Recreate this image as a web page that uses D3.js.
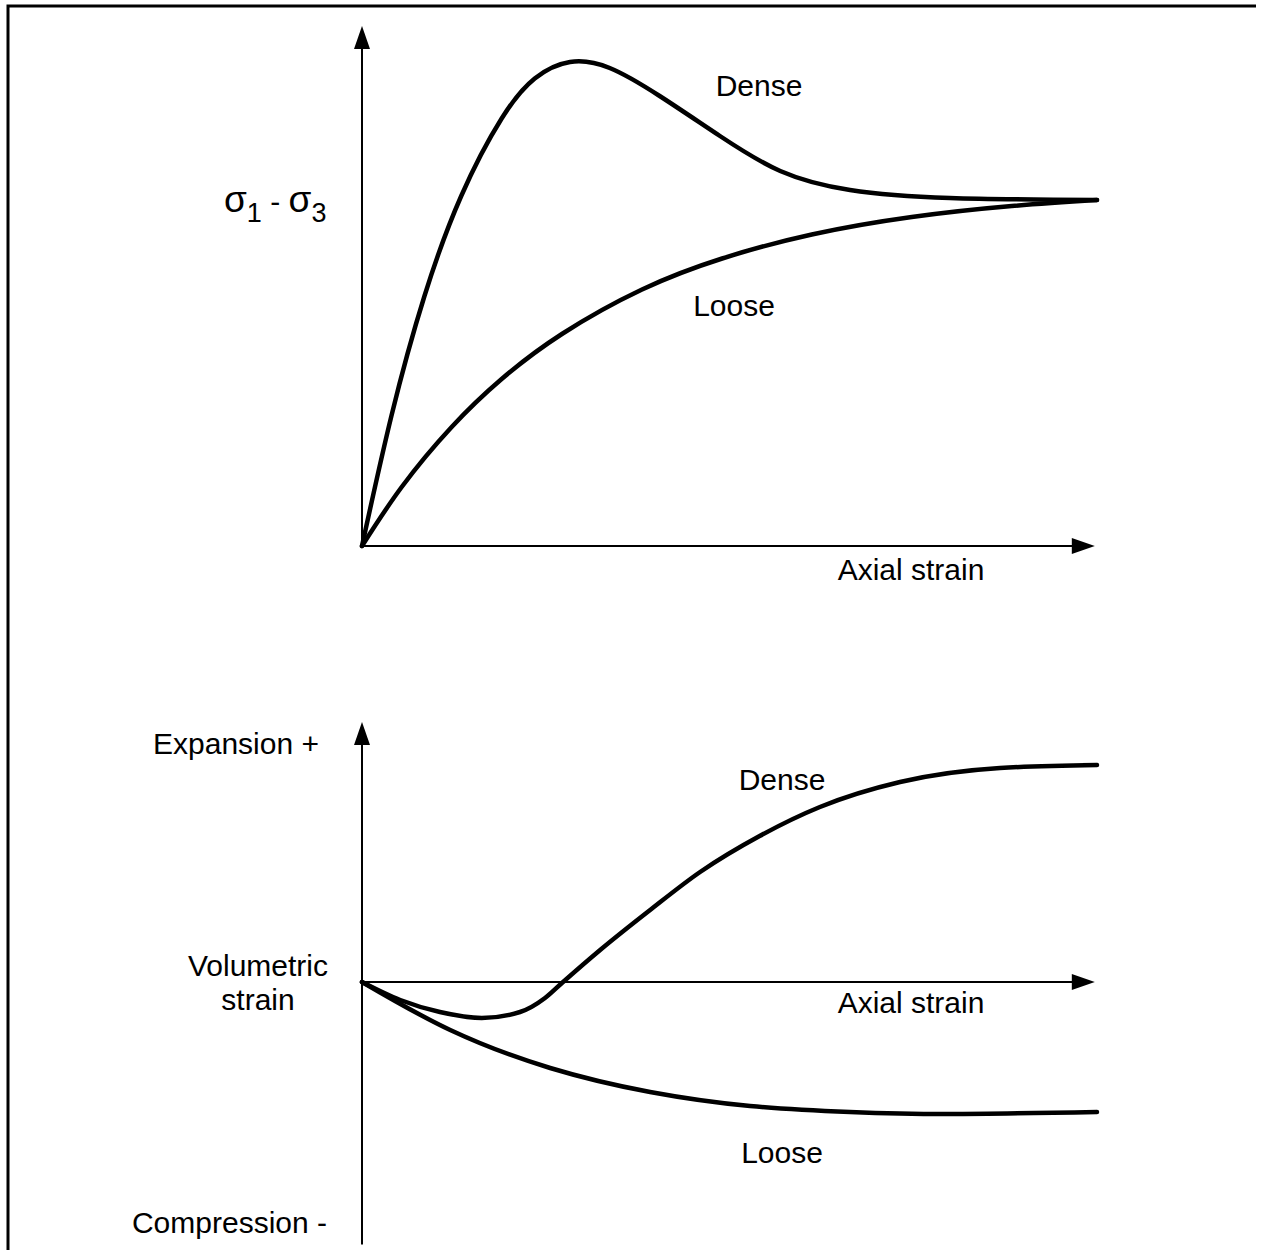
<!DOCTYPE html>
<html>
<head>
<meta charset="utf-8">
<script src="https://cdn.jsdelivr.net/npm/d3@7"></script>
<style>
  html, body { margin: 0; padding: 0; background: #fff; }
  svg { display: block; }
  text { font-family: "Liberation Sans", Arial, sans-serif; font-size: 30px; fill: #000; }
</style>
</head>
<body>
<script>
// ---- Data (axial strain: 0..10, arbitrary units) ----
const strainTopDense   = [0, 0.40, 0.85, 1.35, 1.90, 2.35, 2.83, 3.37, 4.05, 4.87, 5.69, 6.64, 8.0, 10];
const stressDense      = [0, 2.60, 5.00, 7.00, 8.55, 9.35, 9.68, 9.56, 9.00, 8.20, 7.50, 7.12, 6.96, 6.92];
const strainTopLoose   = [0, 0.54, 1.22, 1.90, 2.72, 3.81, 4.90, 6.12, 7.48, 8.84, 10];
const stressLoose      = [0, 1.18, 2.38, 3.34, 4.24, 5.13, 5.75, 6.23, 6.58, 6.80, 6.92];

const strainBotDense   = [0, 0.52, 1.06, 1.63, 2.15, 2.49, 2.72, 3.24, 3.92, 4.60, 5.41, 6.23, 7.32, 8.68, 10];
const volDense         = [0, -0.36, -0.60, -0.72, -0.60, -0.32, -0.02, 0.64, 1.44, 2.20, 2.92, 3.50, 4.00, 4.28, 4.34];
const strainBotLoose   = [0, 1.20, 2.56, 3.92, 5.28, 6.64, 8.0, 10];
const volLoose         = [0, -0.96, -1.72, -2.20, -2.48, -2.60, -2.64, -2.60];

const W = 1265, H = 1250;
const svg = d3.select("body").append("svg").attr("width", W).attr("height", H);

// frame (top and left edges only)
svg.append("path").attr("d", `M8,1250 L8,6 L1256,6`)
  .attr("fill", "none").attr("stroke", "#000").attr("stroke-width", 3);

const x = d3.scaleLinear().domain([0, 10]).range([362, 1097]);
const yTop = d3.scaleLinear().domain([0, 10]).range([546, 46]);
const yBot = d3.scaleLinear().domain([-5, 5]).range([1232, 732]);

function arrowHead(g, tipX, tipY, dir) {
  const L = 23, hw = 8;
  let pts;
  if (dir === "up") pts = [[tipX, tipY], [tipX - hw, tipY + L], [tipX + hw, tipY + L]];
  else pts = [[tipX, tipY], [tipX - L, tipY - hw], [tipX - L, tipY + hw]];
  g.append("path").attr("d", d3.line()(pts) + "Z").attr("fill", "#000");
}

function drawAxes(y, yMin, yMax, xMax) {
  const g = svg.append("g");
  g.append("line").attr("x1", x(0)).attr("x2", x(0)).attr("y1", y(yMin)).attr("y2", y(yMax) + 10)
    .attr("stroke", "#000").attr("stroke-width", 2);
  g.append("line").attr("x1", x(0)).attr("x2", x(xMax) - 10).attr("y1", y(0)).attr("y2", y(0))
    .attr("stroke", "#000").attr("stroke-width", 2);
  arrowHead(g, x(0), y(yMax), "up");
  arrowHead(g, x(xMax), y(0), "right");
}

drawAxes(yTop, 0, 10.4, 9.97);
drawAxes(yBot, -5.25, 5.2, 9.97);

function curve(xs, ys, y, interp) {
  const pts = xs.map((d, i) => [x(d), y(ys[i])]);
  svg.append("path")
    .attr("d", d3.line().curve(interp || d3.curveNatural)(pts))
    .attr("fill", "none").attr("stroke", "#000").attr("stroke-width", 4.5)
    .attr("stroke-linecap", "round").attr("stroke-linejoin", "round");
}
curve(strainTopDense, stressDense, yTop);
curve(strainTopLoose, stressLoose, yTop);
curve(strainBotDense, volDense, yBot, d3.curveMonotoneX);
curve(strainBotLoose, volLoose, yBot);

function label(txt, px, py, anchor) {
  svg.append("text").attr("x", px).attr("y", py).attr("text-anchor", anchor || "middle").text(txt);
}
// top panel
label("Dense", 759, 96);
label("Loose", 734, 316);
label("Axial strain", 911, 580);
const sig = svg.append("text").attr("x", 224).attr("y", 212);
sig.append("tspan").attr("font-size", 37).text("σ");
sig.append("tspan").attr("dy", 10).attr("font-size", 27).text("1");
sig.append("tspan").attr("dy", -10).text(" - ");
sig.append("tspan").attr("font-size", 37).text("σ");
sig.append("tspan").attr("dy", 10).attr("font-size", 27).text("3");

// bottom panel
label("Expansion +", 319, 754, "end");
label("Volumetric", 258, 976);
label("strain", 258, 1010);
label("Compression -", 327, 1233, "end");
label("Dense", 782, 790);
label("Loose", 782, 1163);
label("Axial strain", 911, 1013);
</script>
</body>
</html>
